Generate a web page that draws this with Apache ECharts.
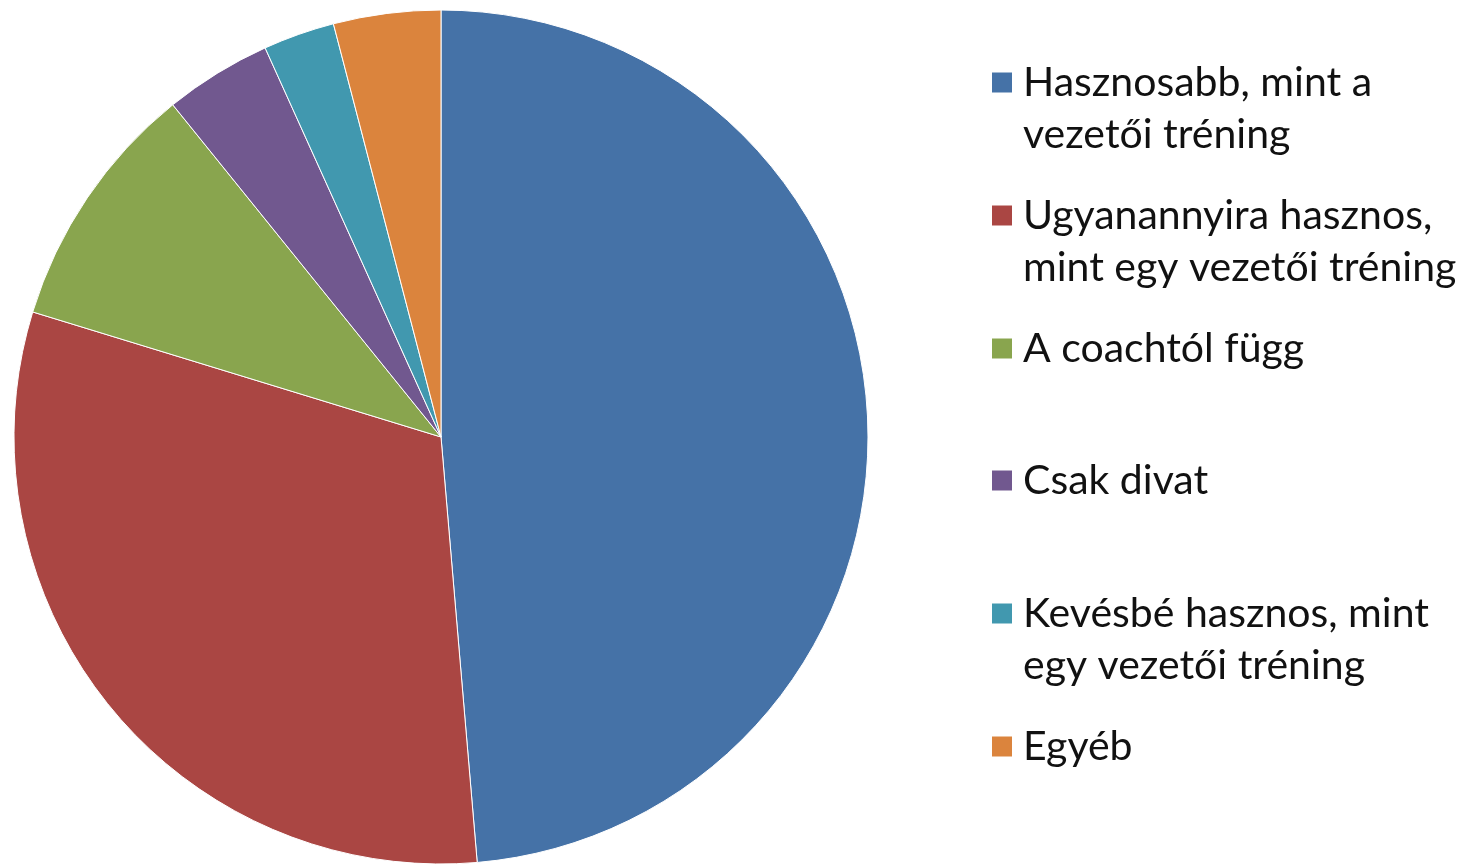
<!DOCTYPE html>
<html>
<head>
<meta charset="utf-8">
<script src="https://cdn.jsdelivr.net/npm/echarts@6/dist/echarts.min.js"></script>
<style>html,body{margin:0;padding:0;background:#fff;}#c{width:1466px;height:864px;}</style>
</head>
<body>
<div id="c"></div>
<script>
// Data
const categories = [
  'Hasznosabb, mint a\nvezetői tréning',
  'Ugyanannyira hasznos,\nmint egy vezetői tréning',
  'A coachtól függ',
  'Csak divat',
  'Kevésbé hasznos, mint\negy vezetői tréning',
  'Egyéb'
];
const values = [36, 23, 7, 3, 2, 3];
const colors = ['#4572A7', '#AA4643', '#89A54E', '#71588F', '#4198AF', '#DB843D'];
const legendLineCenters = [80, 213, 346, 478, 611, 744];

const LINE_H = 52;
const legends = categories.map((name, i) => {
  const nLines = name.split('\n').length;
  const extra = (nLines - 1) * LINE_H;
  return {
    orient: 'vertical',
    left: 990,
    top: legendLineCenters[i] - 18,
    padding: 0,
    icon: 'rect',
    itemWidth: 22,
    itemHeight: 22,
    selectedMode: false,
    data: [name],
    formatter: n => n.split('\n').map(s => '{t|' + s + '}').join('\n'),
    textStyle: {
      padding: [extra, 0, 0, 5],
      rich: {
        t: { fontFamily: 'Lato', fontSize: 41, lineHeight: LINE_H, color: '#111' }
      }
    }
  };
});

const chart = echarts.init(document.getElementById('c'), null, { renderer: 'canvas' });
chart.setOption({
  animation: false,
  color: colors,
  legend: legends,
  series: [{
    type: 'pie',
    center: [441, 437],
    radius: 427,
    startAngle: 90,
    clockwise: true,
    label: { show: false },
    labelLine: { show: false },
    emphasis: { disabled: true },
    itemStyle: { borderColor: '#ffffff', borderWidth: 1 },
    data: categories.map((n, i) => ({ name: n, value: values[i] }))
  }]
});
</script>
</body>
</html>
